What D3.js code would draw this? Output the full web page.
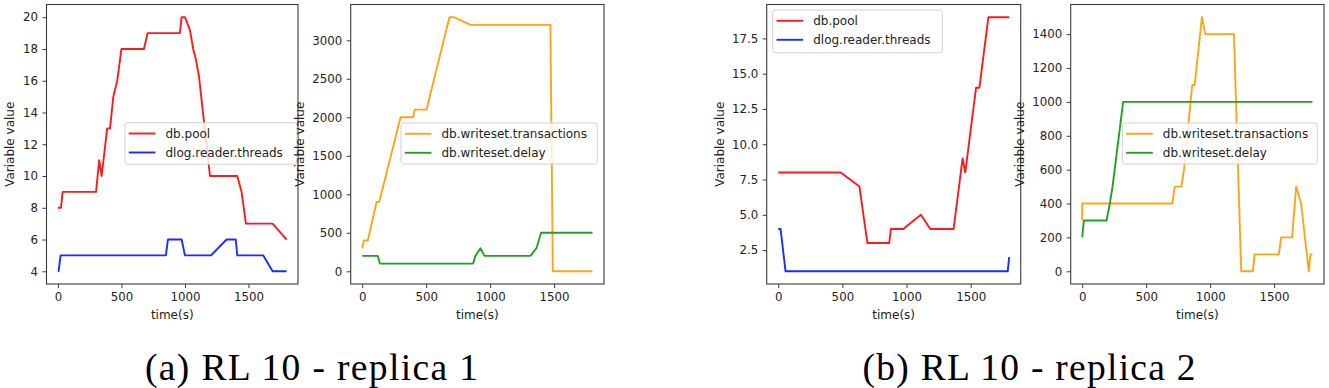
<!DOCTYPE html>
<html>
<head>
<meta charset="utf-8">
<script src="https://cdn.jsdelivr.net/npm/d3@7"></script>
<style>
  html, body { margin: 0; padding: 0; background: #fff; }
  svg { display: block; }
</style>
</head>
<body>
<svg id="chart" width="1329" height="388"></svg>
<script>
// ---------------- DATA ----------------
const xTicks = [0, 500, 1000, 1500];

// (a) replica 1 - left
const r1PoolTime   = [0, 24, 37, 300, 325, 344, 388, 410, 436, 467, 500, 677, 706, 960, 974, 1000, 1039, 1065, 1087, 1110, 1197, 1412, 1446, 1480, 1690, 1800];
const r1PoolValue  = [8, 8, 9, 9, 11, 10, 13, 13, 15, 16, 18, 18, 19, 19, 20, 20, 19.2, 18, 17.3, 16.3, 10, 10, 9, 7, 7, 6];
const r1ThreadsTime  = [0, 5, 21, 850, 866, 974, 1000, 1205, 1328, 1400, 1412, 1617, 1690, 1800];
const r1ThreadsValue = [4, 4, 5, 5, 6, 6, 5, 5, 6, 6, 5, 5, 4, 4];
const r1LeftTicks = [4, 6, 8, 10, 12, 14, 16, 18, 20];

// (a) replica 1 - right
const r1TxTime   = [0, 13, 44, 112, 133, 300, 398, 411, 503, 682, 716, 846, 1471, 1490, 1800];
const r1TxValue  = [300, 400, 400, 900, 900, 2000, 2000, 2100, 2100, 3300, 3300, 3200, 3200, 0, 0];
const r1DelayTime  = [0, 122, 138, 867, 885, 924, 956, 1315, 1362, 1398, 1800];
const r1DelayValue = [200, 200, 100, 100, 200, 300, 200, 200, 300, 500, 500];
const r1RightTicks = [0, 500, 1000, 1500, 2000, 2500, 3000];

// (b) replica 2 - left
const r2PoolTime   = [0, 487, 633, 695, 865, 878, 974, 1112, 1185, 1367, 1437, 1458, 1542, 1568, 1638, 1800];
const r2PoolValue  = [8, 8, 7, 3, 3, 4, 4, 5, 4, 4, 9, 8, 14, 14, 19, 19];
const r2ThreadsTime  = [0, 18, 57, 1789, 1800];
const r2ThreadsValue = [4, 4, 1, 1, 2];
const r2LeftTicks = [2.5, 5.0, 7.5, 10.0, 12.5, 15.0, 17.5];

// (b) replica 2 - right
const r2TxTime   = [0, 0, 705, 723, 775, 796, 860, 879, 936, 962, 1186, 1243, 1334, 1347, 1537, 1555, 1641, 1672, 1711, 1771, 1784, 1800];
const r2TxValue  = [300, 400, 400, 500, 500, 600, 1100, 1100, 1500, 1400, 1400, 0, 0, 100, 100, 200, 200, 500, 400, 0, 100, 100];
const r2DelayTime  = [0, 13, 190, 216, 237, 320, 1800];
const r2DelayValue = [200, 300, 300, 400, 500, 1000, 1000];
const r2RightTicks = [0, 200, 400, 600, 800, 1000, 1200, 1400];

const seriesNames = ["db.pool", "dlog.reader.threads", "db.writeset.transactions", "db.writeset.delay"];
const captions = ["(a) RL 10 - replica 1", "(b) RL 10 - replica 2"];
const xLabel = "time(s)";
const yLabel = "Variable value";

// ---------------- LAYOUT / STYLE ----------------
const COLORS = { pool: "#ff1a1a", threads: "#1a2cff", tx: "#ffa31a", delay: "#22a022" };
const TOP = 4.5, BOTTOM = 284;
const FONT = "'DejaVu Sans', sans-serif";

const zip = (t, v) => t.map((d, i) => ({ t: d, v: v[i] }));

const panels = [
  { x0: 46.5, x1: 298, yDom: [3.2, 20.8], ticks: r1LeftTicks, fmt: d3.format("d"), ylabX: 13.5,
    series: [ { name: seriesNames[0], color: COLORS.pool, data: zip(r1PoolTime, r1PoolValue) },
              { name: seriesNames[1], color: COLORS.threads, data: zip(r1ThreadsTime, r1ThreadsValue) } ],
    legend: { x: 125, y: 122.7, w: 172, h: 41.5 } },
  { x0: 350.7, x1: 604, yDom: [-165, 3465], ticks: r1RightTicks, fmt: d3.format("d"), ylabX: 303.5,
    series: [ { name: seriesNames[2], color: COLORS.tx, data: zip(r1TxTime, r1TxValue) },
              { name: seriesNames[3], color: COLORS.delay, data: zip(r1DelayTime, r1DelayValue) } ],
    legend: { x: 401, y: 123, w: 196.3, h: 41 } },
  { x0: 766.7, x1: 1020.7, yDom: [0.1, 19.9], ticks: r2LeftTicks, fmt: d3.format(".1f"), ylabX: 723.5,
    series: [ { name: seriesNames[0], color: COLORS.pool, data: zip(r2PoolTime, r2PoolValue) },
              { name: seriesNames[1], color: COLORS.threads, data: zip(r2ThreadsTime, r2ThreadsValue) } ],
    legend: { x: 772.7, y: 10, w: 169.6, h: 42.7 } },
  { x0: 1070.7, x1: 1324, yDom: [-75, 1575], ticks: r2RightTicks, fmt: d3.format("d"), ylabX: 1023.5,
    series: [ { name: seriesNames[2], color: COLORS.tx, data: zip(r2TxTime, r2TxValue) },
              { name: seriesNames[3], color: COLORS.delay, data: zip(r2DelayTime, r2DelayValue) } ],
    legend: { x: 1122.3, y: 123, w: 195, h: 41 } }
];

const svg = d3.select("#chart");

panels.forEach((p, i) => {
  const x = d3.scaleLinear().domain([-90, 1890]).range([p.x0, p.x1]);
  const y = d3.scaleLinear().domain(p.yDom).range([BOTTOM, TOP]);
  const g = svg.append("g");

  const clipId = "clip" + i;
  g.append("clipPath").attr("id", clipId)
    .append("rect").attr("x", p.x0).attr("y", TOP).attr("width", p.x1 - p.x0).attr("height", BOTTOM - TOP);

  // lines
  const line = d3.line().x(d => x(d.t)).y(d => y(d.v));
  p.series.forEach(s => {
    g.append("path").datum(s.data)
      .attr("d", line)
      .attr("fill", "none")
      .attr("stroke", s.color)
      .attr("stroke-width", 1.9)
      .attr("stroke-linejoin", "round")
      .attr("clip-path", `url(#${clipId})`);
  });

  // frame
  g.append("rect").attr("x", p.x0).attr("y", TOP)
    .attr("width", p.x1 - p.x0).attr("height", BOTTOM - TOP)
    .attr("fill", "none").attr("stroke", "#3a3a3a").attr("stroke-width", 1.1);

  // axes
  const xa = g.append("g").attr("transform", `translate(0,${BOTTOM})`)
    .call(d3.axisBottom(x).tickValues(xTicks).tickSize(4).tickPadding(5).tickFormat(d3.format("d")));
  const ya = g.append("g").attr("transform", `translate(${p.x0},0)`)
    .call(d3.axisLeft(y).tickValues(p.ticks).tickSize(4).tickPadding(4.5).tickFormat(p.fmt));
  [xa, ya].forEach(a => {
    a.select(".domain").remove();
    a.selectAll("line").attr("stroke", "#3a3a3a").attr("stroke-width", 1);
    a.selectAll("text").attr("font-family", FONT).attr("font-size", 11.8).attr("fill", "#222");
  });

  // axis labels
  g.append("text").attr("x", (p.x0 + p.x1) / 2).attr("y", 318.5)
    .attr("text-anchor", "middle").attr("font-family", FONT).attr("font-size", 12)
    .attr("fill", "#222").text(xLabel);
  g.append("text")
    .attr("transform", `translate(${p.ylabX},${(TOP + BOTTOM) / 2}) rotate(-90)`)
    .attr("text-anchor", "middle").attr("font-family", FONT).attr("font-size", 12)
    .attr("fill", "#222").text(yLabel);

  // legend
  const L = p.legend;
  const lg = g.append("g");
  lg.append("rect").attr("x", L.x).attr("y", L.y).attr("width", L.w).attr("height", L.h)
    .attr("rx", 2.5).attr("fill", "#fff").attr("fill-opacity", 0.8)
    .attr("stroke", "#d0d0d0").attr("stroke-width", 1);
  p.series.forEach((s, k) => {
    const ly = L.y + 10.8 + k * 19;
    lg.append("line").attr("x1", L.x + 3.8).attr("x2", L.x + 30.5)
      .attr("y1", ly).attr("y2", ly).attr("stroke", s.color).attr("stroke-width", 1.9);
    lg.append("text").attr("x", L.x + 40.5).attr("y", ly + 4.3)
      .attr("font-family", FONT).attr("font-size", 12).attr("fill", "#222").text(s.name);
  });
});

// captions
const capCenters = [311.5, 1029];
captions.forEach((c, i) => {
  svg.append("text").attr("x", capCenters[i]).attr("y", 380)
    .attr("text-anchor", "middle")
    .attr("font-family", "'Liberation Serif', 'Times New Roman', serif")
    .attr("font-size", 37.5)
    .attr("textLength", 333).attr("lengthAdjust", "spacing")
    .attr("fill", "#000").text(c);
});
</script>
</body>
</html>
